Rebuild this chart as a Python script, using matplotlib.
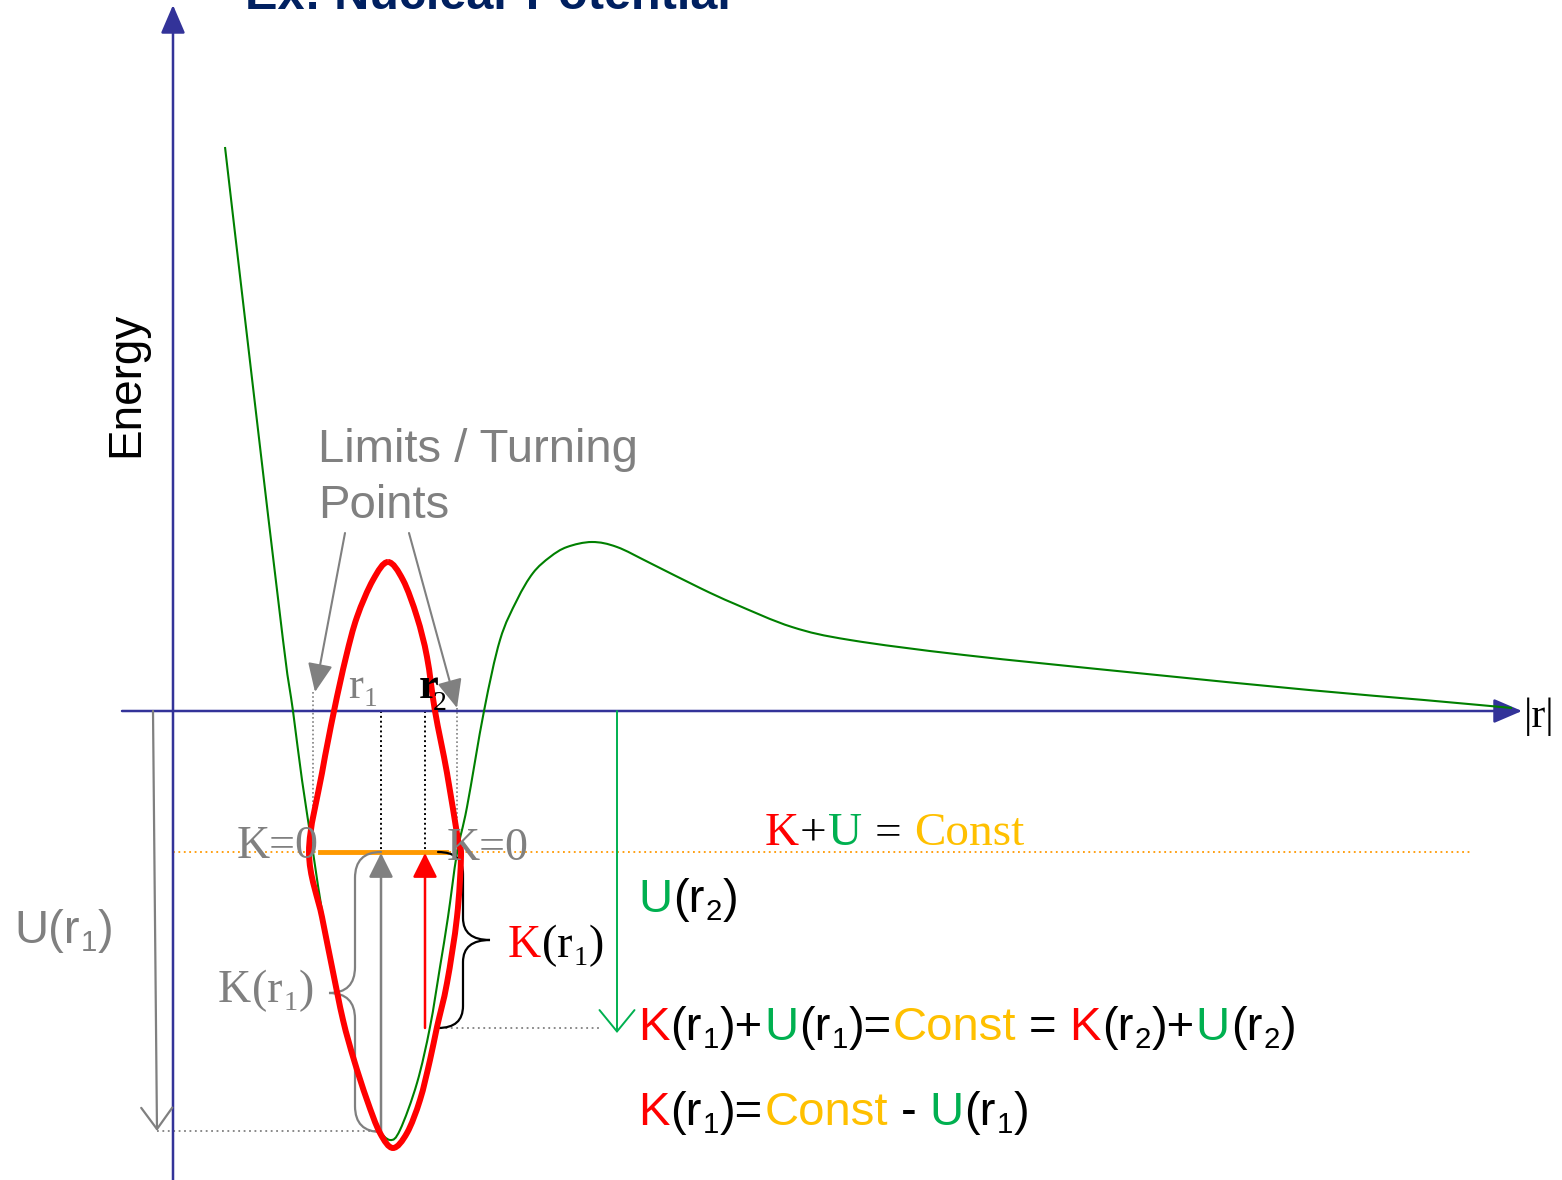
"""
Nuclear potential sketch: energy well, turning points and K + U = Const.
Output: out.png (1562x1180)
"""
import numpy as np
import matplotlib
matplotlib.use("Agg")
import matplotlib.pyplot as plt
from matplotlib.path import Path
from matplotlib.patches import PathPatch

# potential curve U(r) (pixel coords, y down)
POT_X = [225, 251, 283, 293, 302, 313, 323, 333, 343, 353, 367, 378, 390,
         400, 417, 430, 440, 448, 457, 467, 484, 500, 517, 533, 550, 567,
         592, 617, 650, 700, 735, 792, 850, 964, 1137, 1309, 1424, 1512]
POT_Y = [147, 370, 640, 711, 780, 852, 917, 967, 1017, 1060, 1100, 1128, 1140,
         1130, 1083, 1027, 967, 917, 853, 807, 711, 640, 600, 573, 557, 547,
         542, 547, 563, 588, 604, 627, 640, 655, 673, 690, 700, 708]

# red closed orbit outline (clockwise from the top)
ORBIT_X = [388, 403, 417, 427, 435, 447, 458, 461, 457, 447, 437, 430, 420,
           407, 393, 380, 367, 354, 343, 332, 322, 309, 322, 334, 346,
           357, 373]
ORBIT_Y = [562, 580, 617, 657, 711, 773, 840, 856, 917, 983, 1027, 1060, 1100,
           1133, 1148, 1133, 1100, 1060, 1020, 967, 917, 852, 773, 711,
           657, 617, 580]

AXIS_Y0 = 711          # |r| axis level
AXIS_X0 = 173          # energy axis
E_CONST = 852          # total energy level
R1, R2 = 381, 425      # sample positions
TURN_L, TURN_R = 313, 457
U_R1_BOTTOM = 1131
U_R2_BOTTOM = 1028

NAVY = "#333399"
GREEN_LINE = "#008000"
GREEN = "#00B050"
RED = "#FF0000"
GOLD = "#FFC000"
ORANGE = "#FF9900"
GRAY = "#808080"
BLACK = "#000000"
SANS = "Liberation Sans"
SERIF = "Liberation Serif"

fig = plt.figure(figsize=(15.62, 11.80), dpi=100)
ax = fig.add_axes([0, 0, 1, 1])
ax.set_xlim(0, 1562)
ax.set_ylim(1180, 0)
ax.axis("off")
renderer = fig.canvas.get_renderer()


def smooth(xs, ys, closed=False):
    """Catmull-Rom through the sampled points, drawn as cubic Bezier."""
    p = np.column_stack([xs, ys]).astype(float)
    n = len(p)
    if closed:
        get = lambda i: p[i % n]
        segs = n
    else:
        get = lambda i: p[min(max(i, 0), n - 1)]
        segs = n - 1
    verts, codes = [get(0)], [Path.MOVETO]
    for i in range(segs):
        p0, p1, p2, p3 = get(i - 1), get(i), get(i + 1), get(i + 2)
        verts += [p1 + (p2 - p0) / 6, p2 - (p3 - p1) / 6, p2]
        codes += [Path.CURVE4] * 3
    return Path(verts, codes)


def brace(x_end, y_top, y_bot, x_spine, x_tip, y_tip, r, color, lw):
    v = [(x_end, y_top), (x_spine, y_top), (x_spine, y_top + r),
         (x_spine, y_tip - r), (x_spine, y_tip), (x_tip, y_tip),
         (x_spine, y_tip), (x_spine, y_tip + r),
         (x_spine, y_bot - r), (x_spine, y_bot), (x_end, y_bot)]
    c = [Path.MOVETO, Path.CURVE3, Path.CURVE3, Path.LINETO, Path.CURVE3,
         Path.CURVE3, Path.CURVE3, Path.CURVE3, Path.LINETO, Path.CURVE3,
         Path.CURVE3]
    ax.add_patch(PathPatch(Path(v, c), fill=False, edgecolor=color, lw=lw,
                           capstyle="round", zorder=4))


def rich(x, y, parts, size, family, weight="normal"):
    """parts: (text, colour, subscript?) ; text None means a space"""
    px = size / 0.72
    for txt, col, sub in parts:
        if txt is None:
            x += 0.25 * px
            continue
        fs = size * 0.62 if sub else size
        yy = y + (0.17 * px if sub else 0)
        t = ax.text(x, yy, txt, color=col, fontsize=fs, family=family,
                    weight=weight, ha="left", va="baseline", zorder=6)
        x += t.get_window_extent(renderer).width + 0.02 * px


def arrow(p0, p1, color, lw, style, scale, zorder=3):
    ax.annotate("", xy=p1, xytext=p0,
                arrowprops=dict(arrowstyle=style, color=color, lw=lw,
                                mutation_scale=scale, shrinkA=0, shrinkB=0),
                zorder=zorder)


# axes of the diagram
arrow((122, AXIS_Y0), (1522, AXIS_Y0), NAVY, 1.8,
      "-|>,head_length=0.7,head_width=0.3", 25)
arrow((AXIS_X0, 1180), (AXIS_X0, 5), NAVY, 1.8,
      "-|>,head_length=0.7,head_width=0.3", 25)

# total energy level
ax.plot([AXIS_X0, 1470], [E_CONST, E_CONST], color=ORANGE, lw=1.3,
        ls=(0, (1, 2)), zorder=2)
ax.plot([320, 446], [E_CONST, E_CONST], color=ORANGE, lw=3.5, zorder=3)

# potential and orbit
ax.add_patch(PathPatch(smooth(POT_X, POT_Y), fill=False,
                       edgecolor=GREEN_LINE, lw=1.5, zorder=3))
ax.add_patch(PathPatch(smooth(ORBIT_X, ORBIT_Y, closed=True), fill=False,
                       edgecolor=RED, lw=4.3, zorder=5))

# dotted guides
ax.plot([R1, R1], [AXIS_Y0, E_CONST], color=BLACK, lw=1.4, ls=(0, (1, 1.5)), zorder=2)
ax.plot([R2, R2], [AXIS_Y0, E_CONST], color=BLACK, lw=1.4, ls=(0, (1, 1.5)), zorder=2)
ax.plot([TURN_L, TURN_L], [692, E_CONST], color=GRAY, lw=1.2, ls=(0, (1, 1.5)), zorder=2)
ax.plot([TURN_R, TURN_R], [708, E_CONST], color=GRAY, lw=1.2, ls=(0, (1, 1.5)), zorder=2)
ax.plot([157, R1], [U_R1_BOTTOM, U_R1_BOTTOM], color=GRAY, lw=1.3,
        ls=(0, (1, 2)), zorder=2)
ax.plot([440, 600], [U_R2_BOTTOM, U_R2_BOTTOM], color=GRAY, lw=1.3,
        ls=(0, (1, 2)), zorder=2)

# energy arrows
arrow((R1, 1136), (R1, E_CONST + 1), GRAY, 1.8,
      "-|>,head_length=0.6,head_width=0.3", 25, zorder=4)
arrow((R2, U_R2_BOTTOM), (R2, E_CONST + 1), RED, 1.8,
      "-|>,head_length=0.6,head_width=0.3", 25, zorder=4)
arrow((617, AXIS_Y0), (617, 1033), GREEN, 1.4,
      "->,head_length=0.55,head_width=0.45", 28)
arrow((153, AXIS_Y0), (157, U_R1_BOTTOM), GRAY, 1.6,
      "->,head_length=0.55,head_width=0.4", 28)

# braces
brace(R1, E_CONST, U_R1_BOTTOM + 1, 355, 329, 993, 26, GRAY, 1.6)
brace(438, E_CONST, U_R2_BOTTOM, 463, 490, 940, 22, BLACK, 1.6)

# turning point arrows
arrow((345, 533), (315, 692), GRAY, 1.5,
      "-|>,head_length=0.8,head_width=0.35", 22)
arrow((409, 533), (457, 708), GRAY, 1.5,
      "-|>,head_length=0.8,head_width=0.35", 22)

# texts
ax.text(245, 9, "Ex: Nuclear Potential", color="#002060", fontsize=35,
        family=SANS, weight="bold", ha="left", va="baseline")
ax.text(126, 384, "Energy", rotation=90, color=BLACK, fontsize=33,
        family=SANS, ha="center", va="center")
ax.text(318, 462, "Limits / Turning", color=GRAY, fontsize=34, family=SANS,
        ha="left", va="baseline")
ax.text(318, 518, "Points", color=GRAY, fontsize=34, family=SANS,
        ha="left", va="baseline")

rich(348, 698, [("r", GRAY, False), ("1", GRAY, True)], 32, SERIF)
rich(419, 698, [("r", BLACK, False)], 32, SERIF, weight="bold")
ax.text(433, 710, "2", color=BLACK, fontsize=20, family=SERIF,
        ha="left", va="baseline", zorder=6)

rich(237, 858, [("K=0", GRAY, False)], 33, SERIF)
rich(447, 860, [("K=0", GRAY, False)], 33, SERIF)

rich(765, 845, [("K", RED, False), ("+", BLACK, False), ("U", GREEN, False),
                (None, None, False), ("=", BLACK, False), (None, None, False),
                ("Const", GOLD, False)], 34, SERIF)

rich(508, 957, [("K", RED, False), ("(r", BLACK, False), ("1", BLACK, True),
                (")", BLACK, False)], 33, SERIF)
rich(218, 1002, [("K", GRAY, False), ("(r", GRAY, False), ("1", GRAY, True),
                 (")", GRAY, False)], 33, SERIF)

rich(14, 943, [("U(r", GRAY, False), ("1", GRAY, True), (")", GRAY, False)],
     34, SANS)
rich(638, 912, [("U", GREEN, False), ("(r", BLACK, False), ("2", BLACK, True),
                (")", BLACK, False)], 34, SANS)

rich(638, 1040, [("K", RED, False), ("(r", BLACK, False), ("1", BLACK, True),
                 (")+", BLACK, False), ("U", GREEN, False), ("(r", BLACK, False),
                 ("1", BLACK, True), (")=", BLACK, False), ("Const", GOLD, False),
                 (None, None, False), ("=", BLACK, False), (None, None, False),
                 ("K", RED, False), ("(r", BLACK, False), ("2", BLACK, True),
                 (")+", BLACK, False), ("U", GREEN, False), ("(r", BLACK, False),
                 ("2", BLACK, True), (")", BLACK, False)], 34, SANS)
rich(638, 1125, [("K", RED, False), ("(r", BLACK, False), ("1", BLACK, True),
                 (")=", BLACK, False), ("Const", GOLD, False),
                 (None, None, False), ("-", BLACK, False), (None, None, False),
                 ("U", GREEN, False), ("(r", BLACK, False), ("1", BLACK, True),
                 (")", BLACK, False)], 34, SANS)

ax.text(1524, 727, "|r|", color=BLACK, fontsize=30, family=SERIF,
        ha="left", va="baseline")

fig.savefig("out.png", dpi=100)
